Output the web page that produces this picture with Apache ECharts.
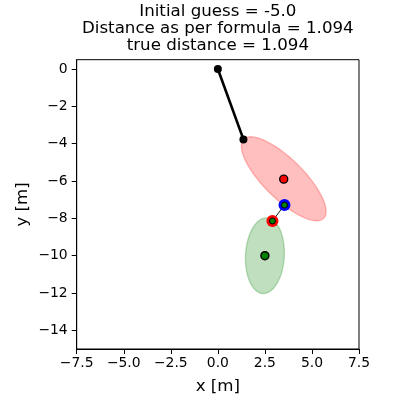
<!DOCTYPE html>
<html>
<head>
<meta charset="utf-8">
<script src="https://cdn.jsdelivr.net/npm/echarts@6/dist/echarts.min.js"></script>
<style>html,body{margin:0;padding:0;background:#fff}#c{width:400px;height:400px}</style>
</head>
<body>
<div id="c"></div>
<script>
// ---- data ----
var titleLines = ['Initial guess = -5.0', 'Distance as per formula = 1.094', 'true distance = 1.094'];
var xTicks = [-7.5, -5.0, -2.5, 0.0, 2.5, 5.0, 7.5];
var yTicks = [0, -2, -4, -6, -8, -10, -12, -14];
var pathPoints = [[0, 0], [1.36, -3.77]];
// ellipses: [cx, cy, semiMajor, semiMinor, angleDeg]
var redEllipse = [3.5, -5.88, 3.0, 1.06, -45];
var greenEllipse = [2.5, -10.0, 2.03, 1.03, 87];
var redCenter = [3.5, -5.9];
var greenCenter = [2.5, -10.0];
var bluePoint = [3.54, -7.29];
var redRingPoint = [2.9, -8.14];

function minus(s) { return String(s).replace('-', '\u2212'); }

function ellipseRender(params, api) {
  var cx = api.value(0), cy = api.value(1), a = api.value(2), b = api.value(3), ang = api.value(4) * Math.PI / 180;
  var pts = [];
  for (var i = 0; i < 120; i++) {
    var t = i / 120 * 2 * Math.PI;
    var ex = a * Math.cos(t), ey = b * Math.sin(t);
    pts.push(api.coord([cx + ex * Math.cos(ang) - ey * Math.sin(ang), cy + ex * Math.sin(ang) + ey * Math.cos(ang)]));
  }
  return { type: 'polygon', shape: { points: pts }, style: api.style() };
}

var font = 'DejaVu Sans';
var chart = echarts.init(document.getElementById('c'), null, { renderer: 'canvas' });
chart.setOption({
  animation: false,
  title: {
    text: titleLines.join('\n'),
    left: 217.85, top: 3.5, padding: 0, textAlign: 'center',
    textStyle: { fontFamily: font, fontSize: 16.67, fontWeight: 'normal', color: '#000', lineHeight: 17 }
  },
  grid: { left: 76.7, right: 41, top: 59.7, bottom: 47.7, show: true, borderColor: '#000', borderWidth: 1, containLabel: false },
  xAxis: {
    type: 'value', min: -7.5, max: 7.5, interval: 2.5,
    name: 'x [m]', nameLocation: 'middle', nameGap: 29, nameMoveOverlap: false,
    nameTextStyle: { fontFamily: font, fontSize: 16.67, color: '#000' },
    axisLine: { show: true, onZero: false, lineStyle: { color: '#000', width: 1 } },
    axisTick: { show: true, inside: false, length: 5, lineStyle: { color: '#000', width: 1 } },
    axisLabel: { margin: 7.5, fontFamily: font, fontSize: 13.9, color: '#000', formatter: function (v) { return minus(v.toFixed(1)); } },
    splitLine: { show: false }
  },
  yAxis: {
    type: 'value', min: -15, max: 0.5,
    name: 'y [m]', nameLocation: 'middle', nameGap: 46, nameRotate: 90, nameMoveOverlap: false,
    nameTextStyle: { fontFamily: font, fontSize: 16.67, color: '#000' },
    axisLine: { show: true, onZero: false, lineStyle: { color: '#000', width: 1 } },
    axisTick: { show: true, inside: false, length: 5, customValues: yTicks, lineStyle: { color: '#000', width: 1 } },
    axisLabel: { margin: 9, fontFamily: font, fontSize: 13.9, color: '#000', customValues: yTicks, formatter: function (v) { return minus(v); } },
    splitLine: { show: false }
  },
  series: [
    { type: 'custom', renderItem: ellipseRender, data: [redEllipse], z: 1,
      itemStyle: { color: 'rgba(255,0,0,0.25)', borderColor: 'rgba(255,0,0,0.25)', borderWidth: 1.4 } },
    { type: 'custom', renderItem: ellipseRender, data: [greenEllipse], z: 1,
      itemStyle: { color: 'rgba(0,128,0,0.25)', borderColor: 'rgba(0,128,0,0.25)', borderWidth: 1.4 } },
    { type: 'line', data: pathPoints, z: 3, symbol: 'circle', symbolSize: 8, showSymbol: true,
      lineStyle: { color: '#000', width: 2.6 }, itemStyle: { color: '#000' } },
    { type: 'line', data: [bluePoint, redRingPoint], z: 3, symbol: 'none',
      lineStyle: { color: '#000', width: 0.9 } },
    { type: 'scatter', data: [redCenter], z: 4, symbolSize: 8,
      itemStyle: { color: '#ff0000', borderColor: '#000', borderWidth: 1.4, opacity: 1 } },
    { type: 'scatter', data: [greenCenter], z: 4, symbolSize: 8,
      itemStyle: { color: '#008000', borderColor: '#000', borderWidth: 1.4, opacity: 1 } },
    { type: 'scatter', data: [bluePoint], z: 4, symbolSize: 12,
      itemStyle: { color: '#0000ff', opacity: 1 } },
    { type: 'scatter', data: [redRingPoint], z: 4, symbolSize: 12,
      itemStyle: { color: '#ff0000', opacity: 1 } },
    { type: 'scatter', data: [bluePoint, redRingPoint], z: 5, symbolSize: 6,
      itemStyle: { color: '#008000', borderColor: '#000', borderWidth: 1, opacity: 1 } }
  ]
});
</script>
</body>
</html>
